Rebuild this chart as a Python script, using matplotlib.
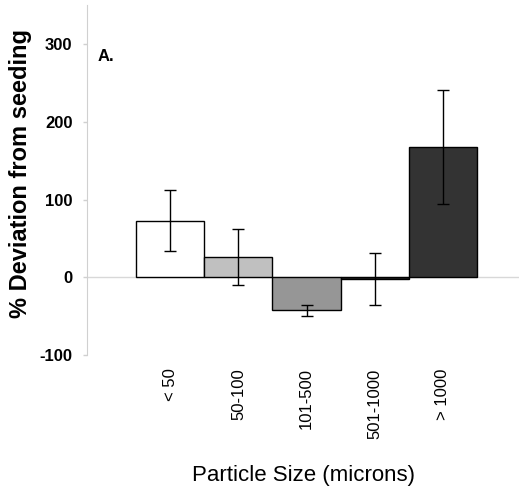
import numpy as np
import matplotlib.pyplot as plt

plt.rcParams['font.family'] = ['Liberation Sans', 'DejaVu Sans']

# === Data ===
categories = ['< 50', '50-100', '101-500', '501-1000', '> 1000']
deviation = [73, 26, -42, -2, 168]
errors = [39, 36, 7, 33, 73]
bar_colors = ['#ffffff', '#c0c0c0', '#969696', '#222222', '#333333']
yticks = [-100, 0, 100, 200, 300]

# === Plot ===
fig = plt.figure(figsize=(5.19, 4.92), dpi=100)
ax = fig.add_axes([0.168, 0.278, 0.832, 0.711])

x = np.arange(len(categories))
ax.axhline(0, color='#d8d8d8', linewidth=1, zorder=1)
ax.bar(x, deviation, width=1.0, color=bar_colors, edgecolor='black',
       linewidth=1, zorder=2)
ax.errorbar(x, deviation, yerr=errors, fmt='none', ecolor='black',
            elinewidth=1, capsize=4, capthick=1, zorder=3)

ax.set_xlim(-1.22, 5.12)
ax.set_ylim(-100, 350)
ax.set_yticks(yticks)
ax.set_yticklabels([str(v) for v in yticks], fontsize=12, fontweight='bold')
ax.set_xticks(x)
ax.set_xticklabels(categories, rotation=90, fontsize=12, va='top')
ax.tick_params(axis='x', length=0, pad=9.5)
ax.tick_params(axis='y', length=3, color='#d0d0d0', width=1, pad=7.5)

for side in ['top', 'right', 'bottom']:
    ax.spines[side].set_visible(False)
ax.spines['left'].set_color('#d0d0d0')

ax.set_ylabel('% Deviation from seeding', fontsize=17, fontweight='bold')
ax.yaxis.set_label_coords(-0.127, 0.52)
ax.set_xlabel('Particle Size (microns)', fontsize=16, labelpad=19)
ax.text(0.025, 0.84, 'A.', transform=ax.transAxes, fontsize=12,
        fontweight='bold')

fig.savefig('out.png', dpi=100)
